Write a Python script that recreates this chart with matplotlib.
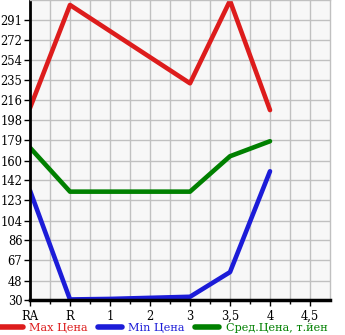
import numpy as np
import matplotlib
matplotlib.use("Agg")
import matplotlib.pyplot as plt

# ---------- data ----------
categories = ["RA", "R", "1", "2", "3", "3,5", "4", "4,5"]
max_price = [209, 305, None, None, 232, 309, 207, None]
min_price = [132, 30.5, 31, 32, 33, 56, 150, None]
avg_price = [172, 131, 131, 131, 131, 164, 178, None]
y_ticks = [30, 48, 67, 86, 104, 123, 142, 160, 179, 198, 216, 235, 254, 272, 291]

labels = ["Max Цена", "Min Цена", "Сред.Цена, т.йен"]
colors = ["#dd1c1c", "#1c1cd8", "#008000"]


def to_xy(vals):
    x = [i for i, v in enumerate(vals) if v is not None]
    y = [v for v in vals if v is not None]
    return x, y


plt.rcParams['font.family'] = ['DejaVu Serif']
fig = plt.figure(figsize=(3.45, 3.35), dpi=100)
ax = fig.add_axes([30 / 345, 35 / 335, 300 / 345, 300 / 335])
ax.set_facecolor("#f7f7f7")

for vals, lab, c in zip([max_price, min_price, avg_price], labels, colors):
    x, y = to_xy(vals)
    ax.plot(x, y, color=c, lw=3.3, label=lab, solid_capstyle='round',
            solid_joinstyle='round')

step = (y_ticks[-1] - y_ticks[0]) / (len(y_ticks) - 1)
ax.set_ylim(y_ticks[0], y_ticks[0] + 15 * step)
ax.set_xlim(0, 7.5)
ax.set_yticks(y_ticks)
ax.set_yticklabels([str(v) for v in y_ticks])
ax.set_xticks(range(len(categories)))
ax.set_xticklabels(categories)

# vertical grid every half category
ax.set_xticks(np.arange(0.5, 7.5, 1.0), minor=True)
ax.grid(True, which='both', axis='x', color="#c0c0c0", lw=1)
ax.grid(True, which='major', axis='y', color="#c0c0c0", lw=1)
ax.set_axisbelow(True)

for s in ['top', 'right']:
    ax.spines[s].set_color("#c0c0c0")
    ax.spines[s].set_linewidth(1)
ax.spines['left'].set_linewidth(2)
ax.spines['bottom'].set_linewidth(2.5)
ax.tick_params(axis='both', which='major', length=4, width=1, labelsize=8.3, pad=1.5)
ax.tick_params(axis='x', which='minor', length=3, width=1)
ax.tick_params(axis='x', pad=3)

leg = ax.legend(loc='center left', bbox_to_anchor=(-31 / 300, -0.093), ncol=3,
                frameon=False, fontsize=8.1, handlelength=2.1, handletextpad=0.6,
                columnspacing=0.9, labelcolor='linecolor', borderaxespad=0,
                borderpad=0)
for h in leg.get_lines():
    h.set_linewidth(4)

fig.savefig("out.png", dpi=100)
